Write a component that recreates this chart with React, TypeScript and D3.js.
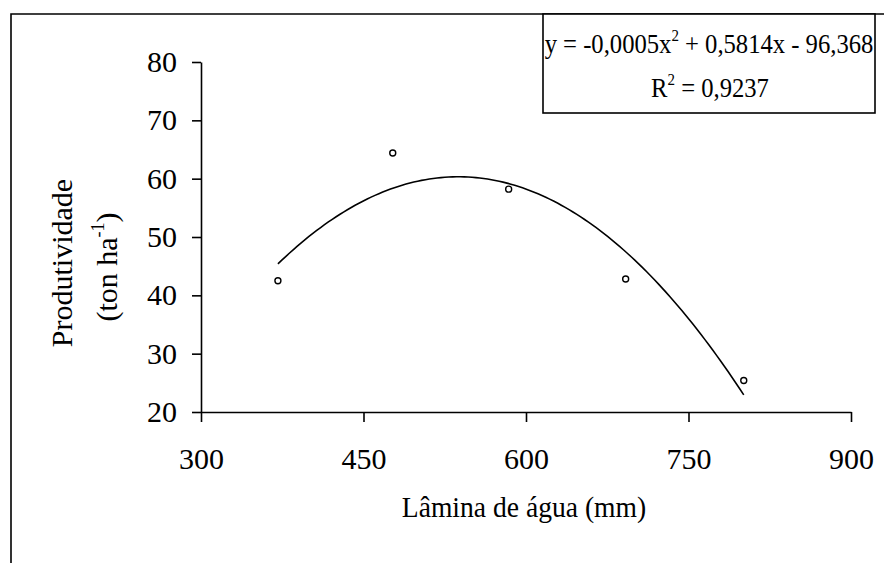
import React, { useEffect, useRef } from 'react';
import * as d3 from 'd3';

// dados
const laminas = [371, 477, 584, 692, 801];
const produtividade = [42.5, 64.4, 58.2, 42.8, 25.4];
const xTicks = [300, 450, 600, 750, 900];
const yTicks = [20, 30, 40, 50, 60, 70, 80];
const eqParts = ['y = -0,0005x', '2', ' + 0,5814x - 96,368'];
const r2Parts = ['R', '2', ' = 0,9237'];

const FONT = '"Liberation Serif", "Times New Roman", serif';

// ajuste polinomial de 2º grau (mínimos quadrados)
function fitQuadratic(xs: number[], ys: number[]) {
    const mx = d3.mean(xs) as number;
    const u = xs.map(x => (x - mx) / 100);
    const s = (p: number) => d3.sum(u, v => Math.pow(v, p));
    const t = (p: number) => d3.sum(u, (v, i) => Math.pow(v, p) * ys[i]);
    const A = [
        [xs.length, s(1), s(2), t(0)],
        [s(1), s(2), s(3), t(1)],
        [s(2), s(3), s(4), t(2)],
    ];
    for (let i = 0; i < 3; i++) {
        for (let k = i + 1; k < 3; k++) {
            const f = A[k][i] / A[i][i];
            for (let j = i; j < 4; j++) A[k][j] -= f * A[i][j];
        }
    }
    const c = [0, 0, 0];
    for (let i = 2; i >= 0; i--) {
        let v = A[i][3];
        for (let j = i + 1; j < 3; j++) v -= A[i][j] * c[j];
        c[i] = v / A[i][i];
    }
    return (x: number) => {
        const v = (x - mx) / 100;
        return c[0] + c[1] * v + c[2] * v * v;
    };
}

const App: React.FC = () => {
    const svgRef = useRef<SVGSVGElement>(null);

    useEffect(() => {
        if (!svgRef.current) return;
        const svg = d3.select(svgRef.current);
        svg.selectAll('*').remove();

        const x = d3.scaleLinear().domain([300, 900]).range([201, 851]);
        const y = d3.scaleLinear().domain([20, 80]).range([412, 62]);

        // moldura (topo e esquerda)
        svg.append('path')
            .attr('d', 'M11,563 L11,14 L884,14')
            .attr('fill', 'none')
            .attr('stroke', '#000')
            .attr('stroke-width', 1.6);

        // eixos
        const gx = svg.append('g')
            .attr('transform', `translate(0,${y(20)})`)
            .call(d3.axisBottom(x).tickValues(xTicks).tickSize(10).tickSizeOuter(0).tickPadding(26));
        const gy = svg.append('g')
            .attr('transform', `translate(${x(300)},0)`)
            .call(d3.axisLeft(y).tickValues(yTicks).tickSize(9).tickSizeOuter(0).tickPadding(15));

        [gx, gy].forEach(g => {
            g.selectAll('path, line').attr('stroke', '#000').attr('stroke-width', 1.6);
            g.selectAll('text')
                .attr('font-family', FONT)
                .attr('font-size', 30)
                .attr('fill', '#000');
        });

        // títulos dos eixos
        svg.append('text')
            .attr('transform', 'translate(524,517) scale(0.92,1)')
            .attr('text-anchor', 'middle')
            .attr('font-family', FONT)
            .attr('font-size', 30)
            .text('Lâmina de água (mm)');

        svg.append('text')
            .attr('transform', 'translate(72,263) rotate(-90)')
            .attr('text-anchor', 'middle')
            .attr('font-family', FONT)
            .attr('font-size', 30)
            .text('Produtividade');

        const t2 = svg.append('text')
            .attr('transform', 'translate(117,267) rotate(-90)')
            .attr('text-anchor', 'middle')
            .attr('font-family', FONT)
            .attr('font-size', 30);
        t2.append('tspan').text('(ton ha');
        t2.append('tspan').attr('font-size', 18).attr('dy', -13).text('-1');
        t2.append('tspan').attr('dy', 13).text(')');

        // linha de tendência
        const f = fitQuadratic(laminas, produtividade);
        const [x0, x1] = d3.extent(laminas) as [number, number];
        const xs = d3.range(x0, x1 + 0.001, (x1 - x0) / 120);
        const line = d3.line<number>().x(d => x(d)).y(d => y(f(d)));
        svg.append('path')
            .attr('d', line(xs) as string)
            .attr('fill', 'none')
            .attr('stroke', '#000')
            .attr('stroke-width', 1.6);

        // pontos observados
        svg.selectAll('circle.pt')
            .data(laminas)
            .enter()
            .append('circle')
            .attr('class', 'pt')
            .attr('cx', d => x(d))
            .attr('cy', (d, i) => y(produtividade[i]))
            .attr('r', 3)
            .attr('fill', '#fff')
            .attr('stroke', '#000')
            .attr('stroke-width', 1.4);

        // caixa da equação
        svg.append('rect')
            .attr('x', 543)
            .attr('y', 14)
            .attr('width', 332)
            .attr('height', 99)
            .attr('fill', '#fff')
            .attr('stroke', '#000')
            .attr('stroke-width', 1.6);

        const eq = svg.append('text')
            .attr('transform', 'translate(709,53) scale(0.88,1)')
            .attr('text-anchor', 'middle')
            .attr('font-family', FONT)
            .attr('font-size', 28);
        eq.append('tspan').text(eqParts[0]);
        eq.append('tspan').attr('font-size', 17).attr('dy', -12).text(eqParts[1]);
        eq.append('tspan').attr('dy', 12).text(eqParts[2]);

        const r2 = svg.append('text')
            .attr('transform', 'translate(710,97) scale(0.88,1)')
            .attr('text-anchor', 'middle')
            .attr('font-family', FONT)
            .attr('font-size', 28);
        r2.append('tspan').text(r2Parts[0]);
        r2.append('tspan').attr('font-size', 17).attr('dy', -12).text(r2Parts[1]);
        r2.append('tspan').attr('dy', 12).text(r2Parts[2]);
    }, []);

    return (
        <svg
            ref={svgRef}
            width={884}
            height={563}
            style={{ position: 'absolute', left: 0, top: 0, background: '#fff' }}
        ></svg>
    );
};

export default App;
